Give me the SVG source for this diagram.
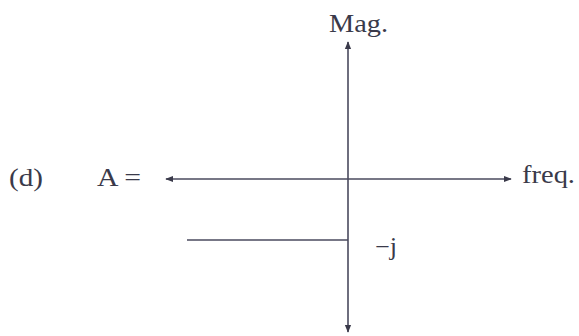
<svg xmlns="http://www.w3.org/2000/svg" width="579" height="336" viewBox="0 0 579 336">
<style>
text{font-family:"Liberation Serif","DejaVu Serif",serif;fill:#3a3a4a;font-size:25px}
.ax{stroke:#4a4a5e;stroke-width:1.6;fill:none}
</style>
<defs>
<marker id="ah" viewBox="0 0 10 10" refX="9" refY="5" markerWidth="8" markerHeight="8" markerUnits="userSpaceOnUse" orient="auto-start-reverse">
<path d="M0,1 L10,5 L0,9 Z" fill="#3a3a4a"/>
</marker>
</defs>
<rect width="579" height="336" fill="#ffffff"/>
<g id="connectors">
<line class="ax" x1="166" y1="179" x2="511" y2="179" marker-start="url(#ah)" marker-end="url(#ah)"/>
<line class="ax" x1="348" y1="42" x2="348" y2="332" marker-start="url(#ah)" marker-end="url(#ah)"/>
<line class="ax" x1="187" y1="240" x2="348" y2="240"/>
</g>
<g id="labels">
<text x="329" y="32" textLength="59" lengthAdjust="spacingAndGlyphs">Mag.</text>
<text x="9" y="186" textLength="34" lengthAdjust="spacingAndGlyphs">(d)</text>
<text x="97" y="186" textLength="44" lengthAdjust="spacingAndGlyphs">A =</text>
<text x="522" y="183" textLength="53" lengthAdjust="spacingAndGlyphs">freq.</text>
<text x="375" y="255" textLength="22" lengthAdjust="spacingAndGlyphs">−j</text>
</g>
</svg>
